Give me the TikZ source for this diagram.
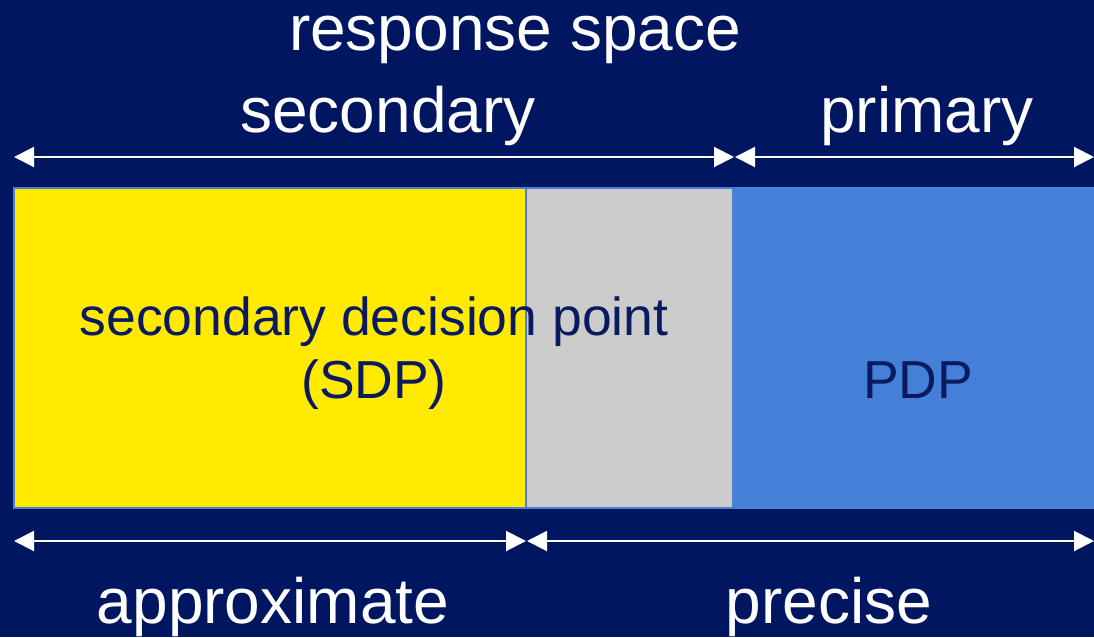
\documentclass[tikz,border=0pt]{standalone}
\usepackage{fontspec}
\setmainfont{Liberation Sans}
\usetikzlibrary{arrows.meta}
\definecolor{navy}{RGB}{1,22,96}
\definecolor{inktext}{RGB}{10,26,96}
\definecolor{sdpyellow}{RGB}{255,234,0}
\definecolor{midgrey}{RGB}{204,204,204}
\definecolor{pdpblue}{RGB}{68,128,216}
\definecolor{edgeblue}{RGB}{74,128,214}
\tikzset{
  region/.style={draw=edgeblue, line width=1.5pt},
  biglabel/.style={text=white, anchor=base, inner sep=0pt, font=\fontsize{64}{64}\selectfont},
  boxlabel/.style={text=inktext, anchor=base, inner sep=0pt, font=\fontsize{53.5}{54}\selectfont},
  span/.style={white, line width=2pt,
    {Triangle[length=20pt,width=20pt]}-{Triangle[length=20pt,width=20pt]}}
}
\begin{document}
\begin{tikzpicture}[x=1pt,y=-1pt]
  \fill[navy] (0,0) rectangle (1094,637);
  \useasboundingbox (0,0) rectangle (1094,637);
  \clip (0,0) rectangle (1094,637);

  % the three regions of the response space
  \draw[region, fill=sdpyellow] (14,188) rectangle (526,508);
  \draw[region, fill=midgrey]   (526,188) rectangle (733,508);
  \draw[region, fill=pdpblue]   (733,188) rectangle (1100,508);

  % labels inside the regions
  \node[boxlabel] (sdpname) at (374,335) {secondary decision point};
  \node[boxlabel] (sdpabbr) at (374,398) {(SDP)};
  \node[boxlabel] (pdpname) at (918,398) {PDP};

  % headings
  \node[biglabel] (title) at (515,50) {response space};
  \node[biglabel] (sec) at (388,132) {secondary};
  \node[biglabel] (prim) at (927,132) {primary};
  \node[biglabel] (approx) at (273,623) {approximate};
  \node[biglabel] (prec) at (829,623) {precise};

  % extent markers
  \coordinate (t0) at (14,157);
  \coordinate (t1) at (734,157);
  \coordinate (t2) at (735,157);
  \coordinate (t3) at (1094,157);
  \coordinate (b0) at (14,541);
  \coordinate (b1) at (526,541);
  \coordinate (b2) at (527,541);
  \coordinate (b3) at (1094,541);
  \draw[span] (t0) -- (t1);
  \draw[span] (t2) -- (t3);
  \draw[span] (b0) -- (b1);
  \draw[span] (b2) -- (b3);
\end{tikzpicture}
\end{document}
